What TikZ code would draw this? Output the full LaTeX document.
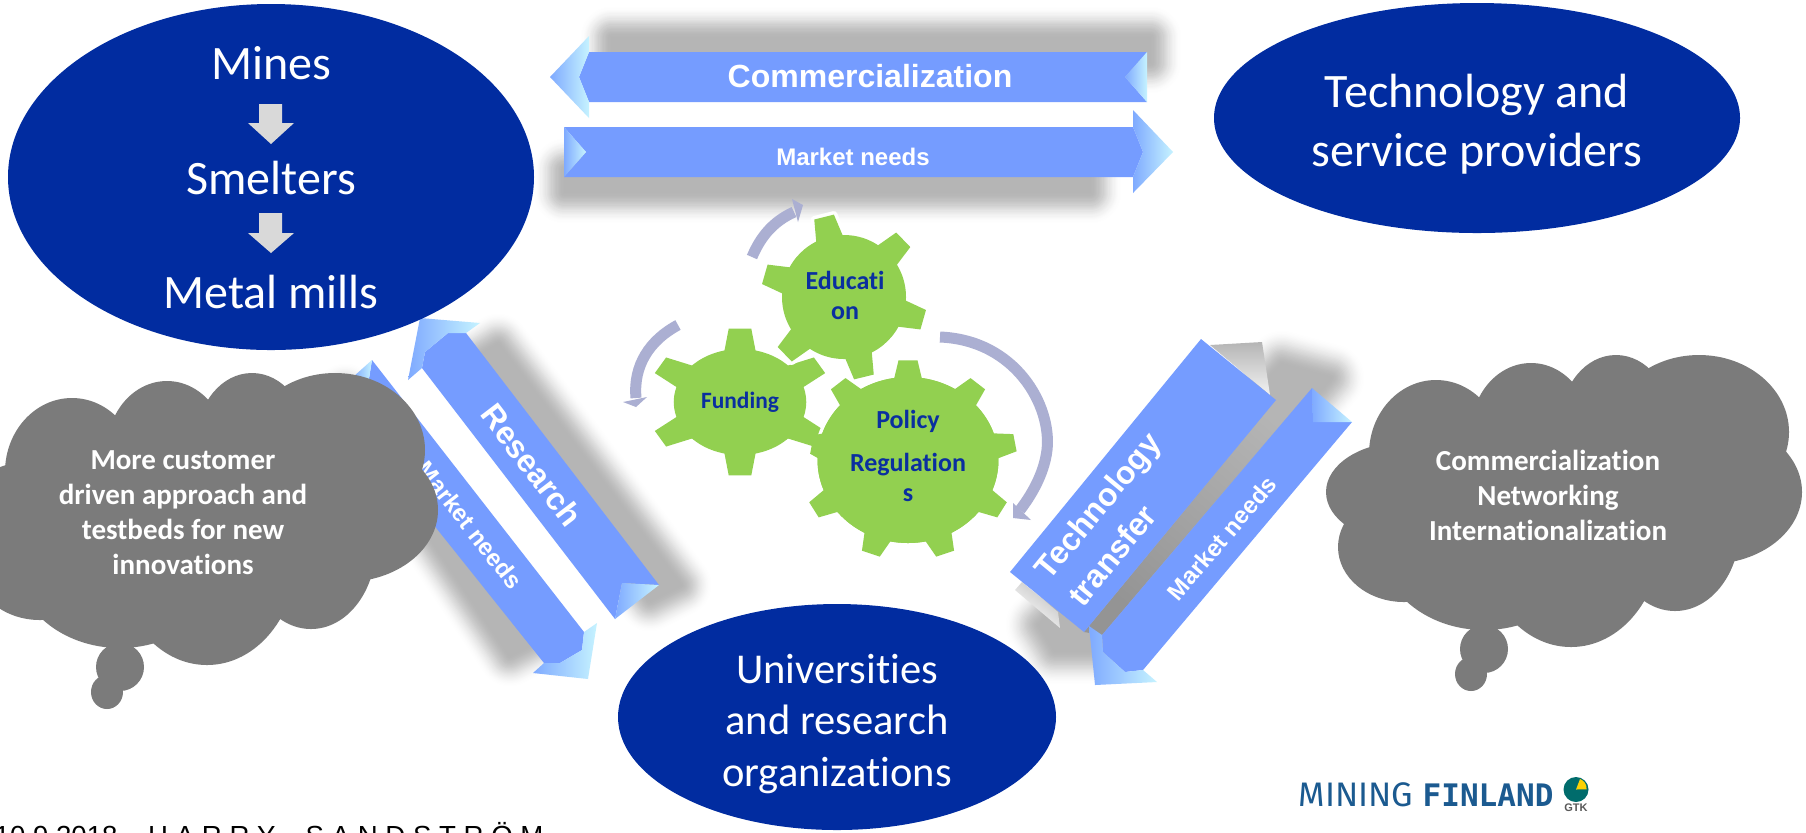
\documentclass[tikz,border=0pt]{standalone}
\usepackage{fontspec}
\setmainfont[Ligatures=CommonOff]{Carlito}
\newfontfamily\arialf{Liberation Sans}
\newfontfamily\logolight{Fira Sans}
\newfontfamily\logobold{DejaVu Sans Mono}
\newcommand\pxfont[2]{\fontsize{\fpeval{#1*0.28453}}{\fpeval{#2*0.28453}}\selectfont}
\definecolor{deepblue}{HTML}{012CA0}
\definecolor{shaftblue}{HTML}{759CFF}
\definecolor{bevellight}{HTML}{C6F3FF}
\definecolor{beveldark}{HTML}{7FAAFF}
\definecolor{shadowgray}{HTML}{B5B5B5}
\definecolor{cloudgray}{HTML}{7B7B7B}
\definecolor{geargreen}{HTML}{92D050}
\definecolor{geartext}{HTML}{0A2F9F}
\definecolor{cyclecol}{HTML}{ABAFD2}
\definecolor{logoblue}{HTML}{1B5A90}
\definecolor{pale}{HTML}{D9D9D9}
\tikzset{
  blob/.style={fill=deepblue,draw=none},
  bigtext/.style={text=white,inner sep=0pt,align=center,font=\pxfont{48}{52}},
  midtext/.style={text=white,inner sep=0pt,align=center,font=\pxfont{42.5}{51.5}},
  cloudtext/.style={text=white,inner sep=0pt,align=center,font=\bfseries\pxfont{29}{35}},
  geartxt/.style={text=geartext,inner sep=0pt,align=center,font=\bfseries\pxfont{26}{30}},
  shaft/.style={fill=shaftblue,draw=none},
  bevel/.style={shade,shading angle=#1,left color=beveldark,right color=bevellight,draw=none},
  arrowlab/.style={text=white,inner sep=0pt,font=\arialf\bfseries},
  cyclearc/.style={draw=cyclecol,line width=0.11cm},
  cyclehead/.style={fill=cyclecol,draw=none},
  palearrow/.style={fill=pale,draw=none},
}
\newcommand\softshadow[2]{%
  \foreach \k in {1,...,26}{%
    \pgfmathsetmacro\shwid{2*#1*(27-\k)/26*0.01}%
    \pgfmathsetmacro\tnow{(\k-0.5)/26}%
    \pgfmathsetmacro\cnow{100*\tnow*\tnow*(3-2*\tnow)}%
    \draw[draw=shadowgray!\cnow!white,line join=round,line width=\shwid cm] #2;%
  }%
  \fill[shadowgray] #2;%
}
\newcommand\gearbody[9]{% cx cy xunit R Rout list halfbase halftip halo
  \begin{scope}[shift={(#1,#2)},x=#3cm,y=0.01cm]
    \ifnum#9>0
    \draw[white,line width=0.07cm,line join=round] (0,0) circle (#4);
    \foreach \a in {#6}{\draw[white,line width=0.07cm,line join=round]
      (\a-#7:#4) -- (\a-#8:#5) -- (\a+#8:#5) -- (\a+#7:#4) -- cycle;}
    \fi
    \fill[geargreen] (0,0) circle (#4);
    \foreach \a in {#6}{\fill[geargreen]
      (\a-#7:#4-1) -- (\a-#8:#5) -- (\a+#8:#5) -- (\a+#7:#4-1) -- cycle;}
  \end{scope}
}
\newcommand\cloudshape[2]{%
  \begin{scope}[shift={(#1,#2)}]
    \fill[cloudgray] (72,472) ellipse [x radius=67,y radius=74];
    \fill[cloudgray] (40,510) ellipse [x radius=78,y radius=50];
    \fill[cloudgray] (40,565) ellipse [x radius=66,y radius=55];
    \fill[cloudgray] (120,560) ellipse [x radius=105,y radius=88];
    \fill[cloudgray] (207,555) ellipse [x radius=90,y radius=110];
    \fill[cloudgray] (311,545) ellipse [x radius=65,y radius=84];
    \fill[cloudgray] (345,510) ellipse [x radius=93,y radius=72];
    \fill[cloudgray] (335,450) ellipse [x radius=90,y radius=77];
    \fill[cloudgray] (252,440) ellipse [x radius=55,y radius=67];
    \fill[cloudgray] (167,450) ellipse [x radius=60,y radius=69];
    \fill[cloudgray] (190,512) ellipse [x radius=200,y radius=85];
    \fill[cloudgray] (120,667) ellipse [x radius=24,y radius=24];
    \fill[cloudgray] (107,692) ellipse [x radius=16,y radius=17];
  \end{scope}
}
\begin{document}
\begin{tikzpicture}[x=0.01cm,y=-0.01cm]
\useasboundingbox (0,0) rectangle (1806,832);
\fill[white] (0,0) rectangle (1806,832);

% soft shadows
\softshadow{32}{(612,38) -- (1150,38) -- (1150,62) -- (612,62) -- cycle}
\softshadow{32}{(565,170) -- (1090,170) -- (1090,192) -- (565,192) -- cycle}
\softshadow{32}{(498,345) -- (680,585) -- (650,600) -- (465,365) -- cycle}
\softshadow{32}{(345,395) -- (385,430) -- (540,640) -- (510,655) -- (350,418) -- cycle}
\softshadow{35}{(1282,365) -- (1330,378) -- (1100,650) -- (1055,650) -- (1040,625) -- cycle}

% top arrows
\path[shaft] (589,52) -- (1147,52) -- (1125,77) -- (1147,102) -- (589,102) -- (579,77) -- cycle;
\path[bevel=180] (550,77) -- (589,36) -- (589,52) -- (579,77) -- (589,102) -- (589,118) -- cycle;
\path[bevel=0] (1147,52) -- (1125,77) -- (1147,102) -- cycle;
\path[shaft] (564,127) -- (1133,127) -- (1143,152) -- (1133,177) -- (564,177) -- (586,152) -- cycle;
\path[bevel=0] (1173,152) -- (1133,110) -- (1133,127) -- (1143,152) -- (1133,177) -- (1133,193) -- cycle;
\path[bevel=180] (564,127) -- (586,152) -- (564,177) -- cycle;

% left diagonal arrows
\path[shaft] (466,333) -- (659,585) -- (622,583) -- (615,619) -- (422,368) -- (425,352) -- (448,333) -- cycle;
\path[bevel=127] (420,318) -- (480,323) -- (466,333) -- (448,333) -- (425,352) -- (422,368) -- (408,380) -- cycle;
\path[bevel=-53] (659,585) -- (622,583) -- (615,619) -- cycle;
\path[shaft] (372,360) -- (584,632) -- (582,650) -- (560,663) -- (544,663) -- (330,395) -- (368,385) -- cycle;
\path[bevel=-53] (588,679) -- (533,673) -- (544,663) -- (560,663) -- (582,650) -- (584,632) -- (597,623) -- cycle;
\path[bevel=127] (372,360) -- (353,377) -- (368,385) -- cycle;

% right diagonal arrows
\path[shade,left color=shadowgray,right color=black!5,shading angle=0] (1210,345) -- (1262,342) -- (1270,395) -- cycle;
\path[shade,left color=black!25,right color=white,shading angle=-40] (1015,590) -- (1022,582) -- (1058,612) -- (1060,628) -- cycle;
\path[shade,left color=shadowgray,right color=black!42,shading angle=-40] (1276,400) -- (1312,388) -- (1102,635) -- (1084,632) -- cycle;
\path[shaft] (1201,339) -- (1276,400) -- (1084,632) -- (1010,572) -- cycle;
\path[shaft] (1312,388) -- (1313,422) -- (1352,422) -- (1143,670) -- (1125,672) -- (1103,652) -- (1102,635) -- cycle;
\path[bevel=45] (1312,388) -- (1352,422) -- (1313,422) -- cycle;
\path[bevel=-130] (1095,685) -- (1089,626) -- (1102,635) -- (1103,652) -- (1125,672) -- (1143,670) -- (1157,682) -- cycle;

% ellipses
\fill[blob] (271,177) ellipse [x radius=263,y radius=173];
\fill[blob] (1477,118) ellipse [x radius=263,y radius=115];
\fill[blob] (837,717) ellipse [x radius=219,y radius=113];

% ellipse texts
\node[bigtext] (mines) at (271,63) {Mines};
\node[bigtext] (smelters) at (271,178) {Smelters};
\node[bigtext] (mills) at (271,292) {Metal mills};
\path[palearrow] (259,104) -- (282,104) -- (282,123) -- (294,123) -- (271,144) -- (248,123) -- (259,123) -- cycle;
\path[palearrow] (259,213) -- (282,213) -- (282,233) -- (294,233) -- (271,253) -- (248,233) -- (259,233) -- cycle;
\node[bigtext,font=\pxfont{48}{59}] (tech) at (1477,124) {Technology and\\service providers};
\node[midtext] (univ) at (837,724) {Universities\\and research\\organizations};

% arrow labels
\node[arrowlab,font=\arialf\bfseries\pxfont{32}{36}] (commerc) at (870,76) {Commercialization};
\node[arrowlab,font=\arialf\bfseries\pxfont{24}{28}] (mneedtop) at (853,157) {Market needs};
\node[arrowlab,font=\arialf\bfseries\pxfont{32}{36},rotate=-52.6] (research) at (532,465) {Research};
\node[arrowlab,font=\arialf\bfseries\pxfont{24}{28},rotate=-52] (mneedleft) at (470,525) {Market needs};
\node[arrowlab,font=\arialf\bfseries\pxfont{32}{43},rotate=50.5,align=left] (techtrans) at (1114,519) {Technology\\transfer};
\node[arrowlab,font=\arialf\bfseries\pxfont{24}{28},rotate=49.6] (mneedright) at (1222,538) {Market needs};

% clouds
\cloudshape{0}{0}
\cloudshape{1364}{-18}
\node[cloudtext] (cloudl) at (183,513) {More customer\\driven approach and\\testbeds for new\\innovations};
\node[cloudtext] (cloudr) at (1548,495) {Commercialization\\Networking\\Internationalization};

% cycle arrows
\draw[cyclearc] (752,257) .. controls (760,238) and (772,222) .. (794,212);
\path[cyclehead] (803,205) -- (792,199) -- (798,222) -- cycle;
\draw[cyclearc] (678,325) .. controls (650,340) and (633,365) .. (636,398);
\path[cyclehead] (636,407) -- (623,402) -- (647,397) -- cycle;
\draw[cyclearc] (940,337) .. controls (1015,340) and (1052,405) .. (1047,450) .. controls (1044,475) and (1030,497) .. (1020,510);
\path[cyclehead] (1013,503) -- (1031,520) -- (1013,518) -- cycle;

% gears
\gearbody{740}{402}{0.0125}{53}{74}{90,30,-30,-90,-150,150}{14}{7}{0}
\gearbody{844}{297}{0.01}{62}{83}{104,44,-16,-76,-136,164}{13}{7}{1}
\gearbody{908}{460}{0.0109}{83}{100}{90,50,10,-30,-70,-110,-150,130}{9}{5}{1}
\gearbody{908}{460}{0.0109}{83}{90}{170}{9}{6}{0}
\node[geartxt] (education) at (845,295) {Educati\\on};
\node[geartxt,font=\bfseries\pxfont{23.4}{28}] (funding) at (740,402) {Funding};
\node[geartxt] (policy) at (908,421) {Policy};
\node[geartxt] (regulation) at (908,477) {Regulation\\s};

% footer
\node[anchor=base west,inner sep=0pt,text=black,font=\arialf\pxfont{27.6}{32}] (footer) at (-6,845)
  {10.9.2018\ \ \ \ H A R R Y\ \ \ \kern2pt S A N D S T R Ö M};

% logo
\node[anchor=base west,inner sep=0pt,text=logoblue,font=\logolight\pxfont{34}{40}] (logoa) at (1298,806) {MINING};
\node[anchor=base west,inner sep=0pt,text=logoblue,font=\logobold\bfseries\pxfont{31}{40}] (logob) at (1422,806) {FINLAND};
\fill[teal!85!black] (1576,789.5) circle (12.5);
\fill[yellow!70!orange] (1576,789.5) -- (1580,779) arc [start angle=-70,end angle=5,x radius=10,y radius=10] -- cycle;
\node[inner sep=0pt,text=black!65,font=\arialf\bfseries\pxfont{11}{12}] (gtk) at (1576,808) {GTK};
\end{tikzpicture}
\end{document}
